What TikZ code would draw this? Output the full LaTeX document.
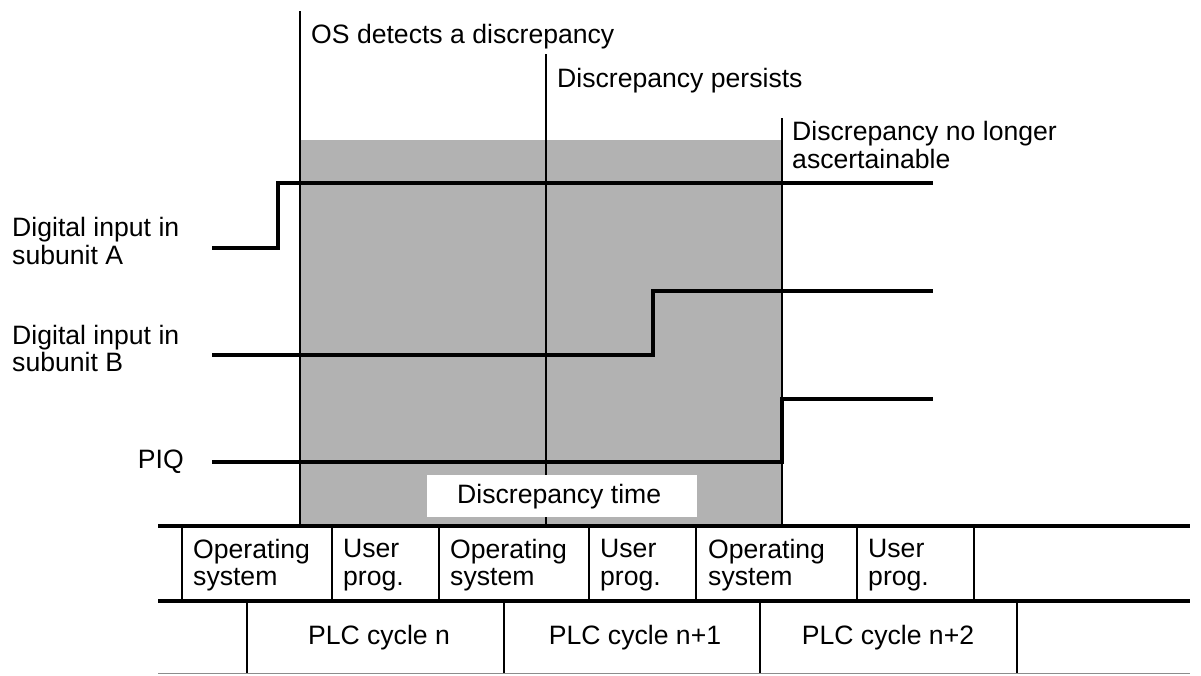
\documentclass[tikz,border=0pt]{standalone}
\usepackage{fontspec}
\setmainfont{Liberation Sans}
\begin{document}
\begin{tikzpicture}[x=1pt,y=-1pt,
  lbl/.style={inner sep=0pt,font=\fontsize{26.6}{27.5}\selectfont},
  sig/.style={line width=4pt,line cap=butt,line join=miter},
  thin/.style={line width=1.8pt},
  rule/.style={line width=3.6pt},
  shade/.style={fill=black!30}]
\useasboundingbox (0,0) rectangle (1201,675);
% shaded discrepancy region
\fill[shade] (300,140) rectangle (782,525);
% discrepancy time box
\node[lbl,fill=white,minimum width=270pt,minimum height=42pt,anchor=north west] (dtime) at (427,475) {\hspace*{-6pt}Discrepancy time};
% marker lines
\coordinate (m1t) at (300,11);  \coordinate (m1b) at (300,525);
\coordinate (m2t) at (546,54);  \coordinate (m2b) at (546,525);
\coordinate (m3t) at (782,118); \coordinate (m3b) at (782,525);
\draw[thin] (m1t) -- (m1b);
\draw[thin] (m2t) -- (dtime.north -| m2t);
\draw[thin] (dtime.south -| m2b) -- (m2b);
\draw[thin] (m3t) -- (m3b);
\node[lbl,anchor=base west] (os) at (311,43) {OS detects a discrepancy};
\node[lbl,anchor=base west] (pers) at (557,87) {Discrepancy persists};
\node[lbl,anchor=north west,align=left] (nolonger) at (792,121.5) {Discrepancy no longer\\ascertainable};
% signals
\coordinate (a0) at (212,248); \coordinate (a1) at (278,248); \coordinate (a2) at (278,183); \coordinate (a3) at (933,183);
\coordinate (b0) at (212,355); \coordinate (b1) at (653,355); \coordinate (b2) at (653,291); \coordinate (b3) at (933,291);
\coordinate (p0) at (212,462); \coordinate (p1) at (782,462); \coordinate (p2) at (782,399); \coordinate (p3) at (933,399);
\draw[sig] (a0) -- (a1) -- (a2) -- (a3);
\draw[sig] (b0) -- (b1) -- (b2) -- (b3);
\draw[sig] (p0) -- (p1) -- (p2) -- (p3);
\node[lbl,anchor=north west,align=left] (la) at (12,217.5) {Digital input in\\subunit A};
\node[lbl,anchor=north west,align=left] (lb) at (12,325) {Digital input in\\subunit B};
\node[lbl,anchor=base east] (lp) at (184,468) {PIQ};
% table
\coordinate (t1l) at (158,526); \coordinate (t1r) at (1190,526);
\coordinate (t2l) at (158,601); \coordinate (t2r) at (1190,601);
\coordinate (t3l) at (158,673); \coordinate (t3r) at (1190,673);
\draw[rule] (t1l) -- (t1r);
\draw[rule] (t2l) -- (t2r);
\draw[line width=1pt,black!45] (t3l) -- (t3r);
\foreach \x in {182,332,439,589,696,857,974} \draw[thin] (\x,526) -- (\x,601);
\foreach \x in {247,504,760,1017} \draw[thin] (\x,601) -- (\x,673);
\node[lbl,anchor=north west,align=left] (os1) at (193,539) {Operating\\system};
\node[lbl,anchor=north west,align=left] (up1) at (343,539) {User\\prog.};
\node[lbl,anchor=north west,align=left] (os2) at (450,539) {Operating\\system};
\node[lbl,anchor=north west,align=left] (up2) at (600,539) {User\\prog.};
\node[lbl,anchor=north west,align=left] (os3) at (708,539) {Operating\\system};
\node[lbl,anchor=north west,align=left] (up3) at (868,539) {User\\prog.};
\node[lbl,anchor=base] (c1) at (379,644) {PLC cycle n};
\node[lbl,anchor=base] (c2) at (635,644) {PLC cycle n+1};
\node[lbl,anchor=base] (c3) at (888,644) {PLC cycle n+2};
\end{tikzpicture}
\end{document}
